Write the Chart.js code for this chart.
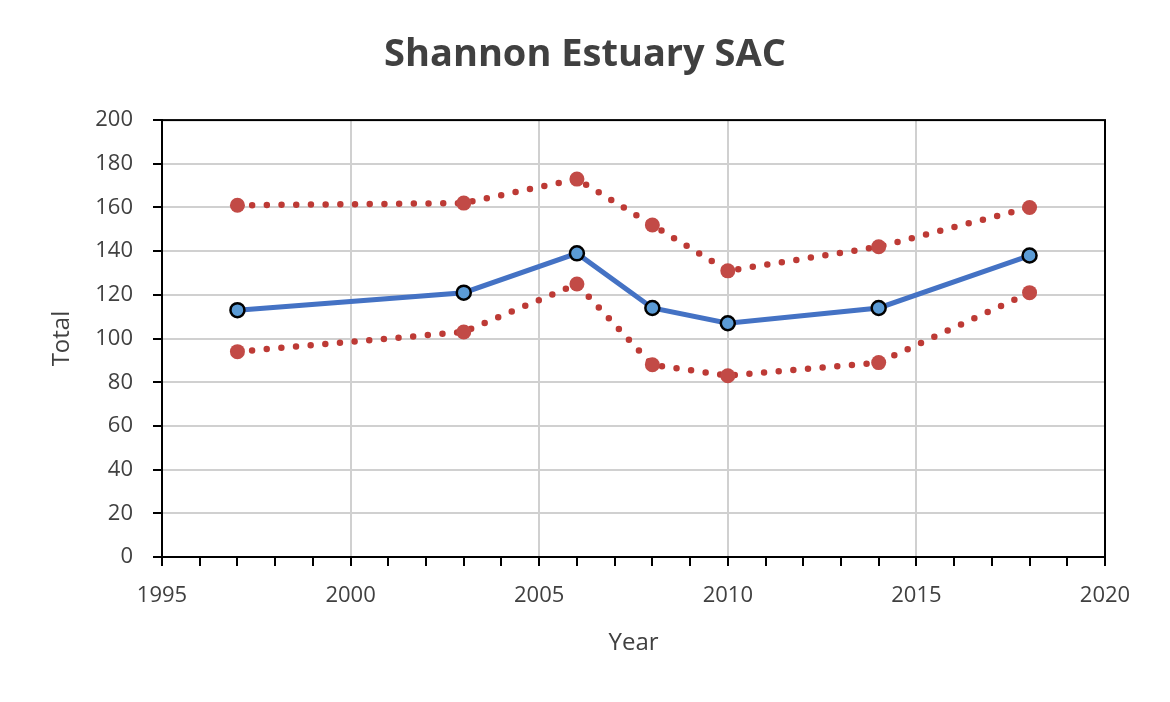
<!DOCTYPE html>
<html>
<head>
<meta charset="utf-8">
<script src="https://cdn.jsdelivr.net/npm/chart.js@4/dist/chart.umd.min.js"></script>
<style>
  html, body { margin: 0; padding: 0; background: #fff; }
  #wrap { width: 1170px; height: 702px; }
</style>
</head>
<body>
<div id="wrap"><canvas id="chart"></canvas></div>
<script>
// valores
const years = [1997, 2003, 2006, 2008, 2010, 2014, 2018];
const totals = [113, 121, 139, 114, 107, 114, 138];
const upperBound = [161, 162, 173, 152, 131, 142, 160];
const lowerBound = [94, 103, 125, 88, 83, 89, 121];
const yTicks = [0, 20, 40, 60, 80, 100, 120, 140, 160, 180, 200];

const textColor = "#404040";
const font = "'Open Sans', 'Noto Sans', sans-serif";

function pairs(values) {
  return years.map((y, i) => ({ x: y, y: values[i] }));
}

function dottedSeries(label, values) {
  return {
    label: label,
    data: pairs(values),
    borderColor: "#BD3A35",
    borderWidth: 6.5,
    borderDash: [0, 14.7],
    borderCapStyle: "round",
    pointRadius: 7.5,
    pointBackgroundColor: "#C24A46",
    pointBorderColor: "#C24A46",
    pointBorderWidth: 0,
    tension: 0,
  };
}

// contorno preto da área do gráfico (topo e direita)
const frame = {
  id: "frame",
  beforeDatasetsDraw(chart) {
    const { ctx, chartArea: a } = chart;
    ctx.save();
    ctx.strokeStyle = "#000";
    ctx.lineWidth = 2;
    ctx.strokeRect(a.left, a.top, a.right - a.left, a.bottom - a.top);
    ctx.restore();
  },
};

const ctx = document.getElementById("chart").getContext("2d");

new Chart(ctx, {
  type: "line",
  data: {
    datasets: [
      dottedSeries("Upper", upperBound),
      dottedSeries("Lower", lowerBound),
      {
        label: "Total",
        data: pairs(totals),
        borderColor: "#4472C4",
        borderWidth: 5,
        pointRadius: 7,
        pointBackgroundColor: "#5B9BD5",
        pointBorderColor: "#000",
        pointBorderWidth: 2.5,
        tension: 0,
      },
    ],
  },
  options: {
    responsive: true,
    maintainAspectRatio: false,
    animation: false,
    layout: { padding: 0 },
    plugins: {
      legend: { display: false },
      tooltip: { enabled: false },
      title: {
        display: true,
        text: "Shannon Estuary SAC",
        color: textColor,
        font: { family: font, size: 38, weight: "bold" },
        padding: { top: 32, bottom: 42.5 },
      },
    },
    scales: {
      x: {
        type: "linear",
        min: 1995,
        max: 2020,
        afterFit(scale) { scale.height = 145; },
        ticks: {
          stepSize: 1,
          autoSkip: false,
          maxRotation: 0,
          padding: 17,
          color: textColor,
          font: { family: font, size: 22 },
          callback: (v) => (v % 5 === 0 ? String(v) : ""),
        },
        grid: {
          color: (c) => (c.tick && c.tick.value % 5 === 0 && c.tick.value !== 1995 && c.tick.value !== 2020 ? "#d0d0d0" : "rgba(0,0,0,0)"),
          lineWidth: 2,
          tickColor: "#000",
          tickLength: 9,
          tickWidth: 2,
        },
        border: { color: "#000", width: 2 },
        title: {
          display: true,
          text: "Year",
          color: textColor,
          font: { family: font, size: 24 },
          padding: { top: 0, bottom: 44 },
        },
      },
      y: {
        min: 0,
        max: 200,
        afterFit(scale) { scale.width = 162; },
        afterBuildTicks(scale) { scale.ticks = yTicks.map((v) => ({ value: v })); },
        ticks: {
          padding: 20,
          color: textColor,
          font: { family: font, size: 22 },
        },
        grid: {
          color: (c) => (c.tick && c.tick.value > 0 && c.tick.value < 200 ? "#d0d0d0" : "rgba(0,0,0,0)"),
          lineWidth: 2,
          tickColor: "#000",
          tickLength: 9,
          tickWidth: 2,
        },
        border: { color: "#000", width: 2 },
        title: {
          display: true,
          text: "Total",
          color: textColor,
          font: { family: font, size: 24 },
          padding: { top: 48, bottom: 0 },
        },
      },
      // eixo vazio à direita só para reservar a margem
      spacer: {
        type: "linear",
        position: "right",
        display: true,
        afterFit(scale) { scale.width = 65; },
        ticks: { display: false },
        grid: { display: false, drawTicks: false },
        border: { display: false },
      },
    },
  },
  plugins: [frame],
});
</script>
</body>
</html>
